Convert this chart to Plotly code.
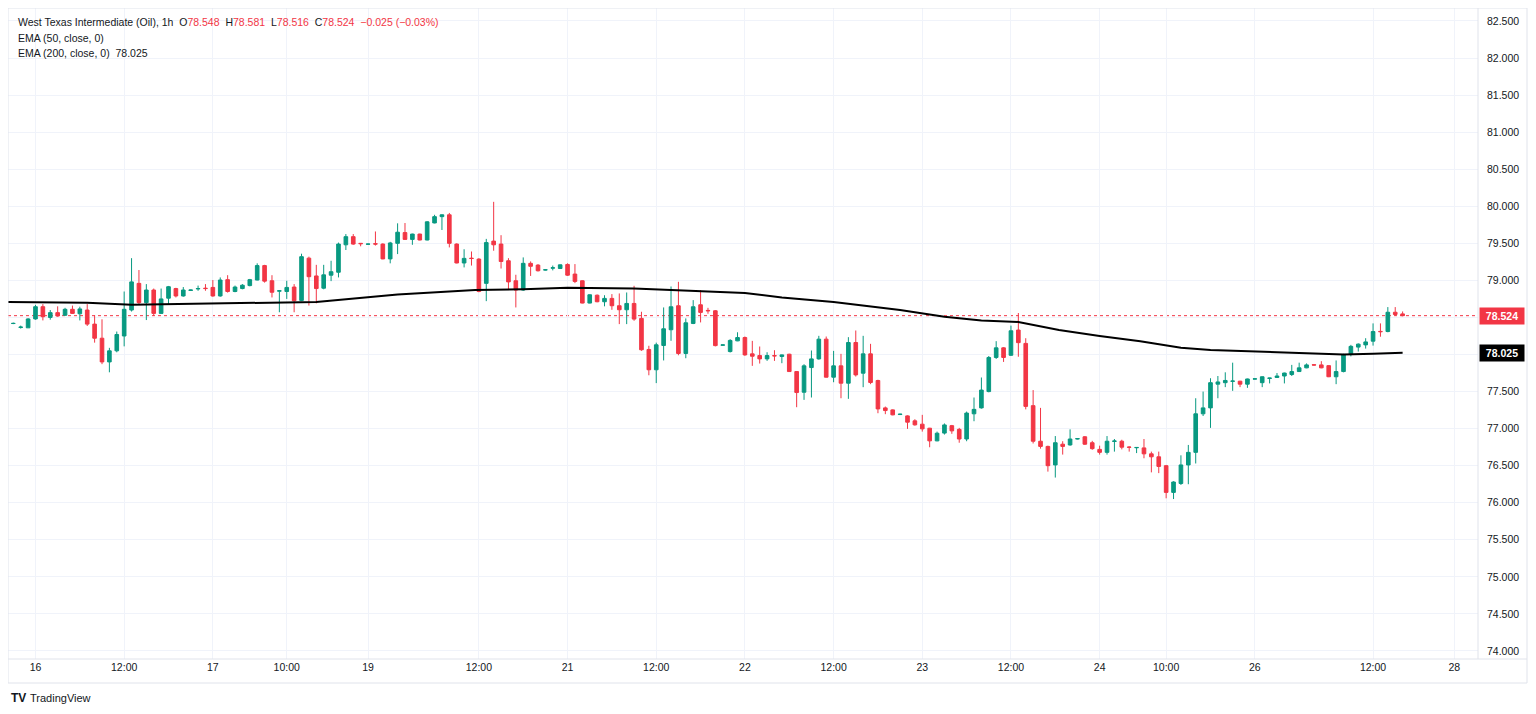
import plotly.graph_objects as go

# ---- data ----
ohlc = [
    (78.418, 78.43, 78.41, 78.42), (78.365, 78.39, 78.35, 78.37), (78.36, 78.49, 78.36, 78.48),
    (78.48, 78.67, 78.47, 78.645), (78.645, 78.68, 78.46, 78.51), (78.50, 78.60, 78.47, 78.565),
    (78.565, 78.65, 78.51, 78.52), (78.53, 78.63, 78.52, 78.61), (78.61, 78.66, 78.55, 78.555),
    (78.55, 78.645, 78.46, 78.615), (78.60, 78.68, 78.385, 78.41), (78.41, 78.53, 78.16, 78.22),
    (78.22, 78.475, 77.87, 77.90), (77.90, 78.09, 77.76, 78.05), (78.05, 78.31, 78.03, 78.27),
    (78.25, 78.85, 78.11, 78.61), (78.60, 79.30, 78.58, 78.98), (78.96, 79.14, 78.67, 78.70),
    (78.70, 78.95, 78.465, 78.87), (78.87, 78.89, 78.52, 78.555), (78.555, 78.89, 78.55, 78.75),
    (78.76, 78.925, 78.68, 78.915), (78.89, 78.90, 78.77, 78.79), (78.79, 78.91, 78.78, 78.87),
    (78.865, 78.875, 78.86, 78.87), (78.885, 78.93, 78.86, 78.89), (78.895, 78.95, 78.86, 78.89),
    (78.905, 79.005, 78.78, 78.79), (78.79, 79.04, 78.78, 79.005), (79.01, 79.07, 78.835, 78.85),
    (78.85, 78.93, 78.84, 78.91), (78.89, 78.95, 78.88, 78.935), (78.93, 79.02, 78.92, 79.01),
    (79.005, 79.23, 79.00, 79.20), (79.20, 79.21, 78.97, 78.99), (78.995, 79.07, 78.77, 78.84),
    (78.855, 78.87, 78.57, 78.86), (78.85, 78.995, 78.75, 78.905), (78.91, 78.95, 78.57, 78.725),
    (78.73, 79.36, 78.72, 79.32), (79.30, 79.32, 78.66, 79.05), (79.06, 79.21, 78.69, 78.89),
    (78.895, 79.21, 78.88, 79.075), (79.07, 79.265, 78.99, 79.117), (79.11, 79.51, 79.04, 79.49),
    (79.48, 79.625, 79.41, 79.59), (79.59, 79.625, 79.48, 79.49), (79.50, 79.50, 79.46, 79.495),
    (79.488, 79.495, 79.485, 79.49), (79.495, 79.66, 79.47, 79.49), (79.49, 79.50, 79.285, 79.29),
    (79.29, 79.52, 79.23, 79.505), (79.50, 79.77, 79.355, 79.65), (79.645, 79.774, 79.55, 79.553),
    (79.553, 79.63, 79.48, 79.625), (79.625, 79.63, 79.54, 79.545), (79.545, 79.80, 79.54, 79.79),
    (79.775, 79.885, 79.77, 79.86), (79.86, 79.89, 79.68, 79.885), (79.885, 79.91, 79.445, 79.50),
    (79.49, 79.50, 79.23, 79.235), (79.235, 79.42, 79.175, 79.297), (79.30, 79.39, 79.20, 79.295),
    (79.287, 79.30, 78.84, 78.851), (78.96, 79.56, 78.72, 79.51), (79.53, 80.06, 79.40, 79.48),
    (79.49, 79.61, 79.16, 79.255), (79.265, 79.30, 78.88, 78.98), (78.995, 79.076, 78.635, 78.87),
    (78.87, 79.31, 78.86, 79.23), (79.23, 79.256, 79.06, 79.19), (79.206, 79.22, 79.12, 79.13),
    (79.14, 79.15, 79.135, 79.143), (79.165, 79.20, 79.135, 79.17), (79.16, 79.215, 79.155, 79.21),
    (79.215, 79.23, 79.06, 79.07), (79.085, 79.22, 78.963, 78.986), (78.995, 79.00, 78.69, 78.694),
    (78.694, 78.81, 78.69, 78.806), (78.80, 78.81, 78.705, 78.712), (78.712, 78.80, 78.65, 78.757),
    (78.757, 78.815, 78.603, 78.658), (78.658, 78.824, 78.41, 78.604), (78.604, 78.837, 78.41, 78.689),
    (78.689, 78.927, 78.455, 78.478), (78.487, 78.577, 78.05, 78.064), (78.068, 78.118, 77.72, 77.794),
    (77.794, 78.16, 77.614, 78.131), (78.122, 78.635, 77.92, 78.347), (78.334, 78.918, 78.185, 78.644),
    (78.658, 78.981, 77.99, 78.014), (78.014, 78.487, 77.95, 78.428), (78.419, 78.734, 78.41, 78.644),
    (78.671, 78.869, 78.433, 78.568), (78.595, 78.63, 78.55, 78.59), (78.59, 78.60, 78.11, 78.12),
    (78.125, 78.135, 78.12, 78.13), (78.04, 78.207, 78.027, 78.19), (78.184, 78.30, 78.18, 78.229),
    (78.229, 78.243, 77.982, 77.995), (78.009, 78.184, 77.847, 77.977), (77.986, 78.108, 77.878, 77.941),
    (77.941, 78.031, 77.914, 77.986), (77.985, 78.058, 77.914, 77.982), (77.973, 78.00, 77.883, 77.995),
    (78.004, 78.01, 77.765, 77.77), (77.77, 77.775, 77.289, 77.487), (77.491, 77.869, 77.388, 77.847),
    (77.824, 78.054, 77.42, 77.941), (77.941, 78.252, 77.93, 78.207), (78.207, 78.243, 77.69, 77.694),
    (77.694, 78.049, 77.626, 77.847), (77.847, 78.009, 77.41, 77.613), (77.613, 78.234, 77.402, 78.162),
    (78.162, 78.324, 77.703, 77.725), (77.748, 78.252, 77.559, 78.009), (78.009, 78.144, 77.60, 77.622),
    (77.649, 77.66, 77.208, 77.266), (77.28, 77.298, 77.195, 77.244), (77.253, 77.26, 77.18, 77.186),
    (77.19, 77.20, 77.185, 77.195), (77.172, 77.18, 76.997, 77.087), (77.105, 77.127, 77.04, 77.051),
    (77.06, 77.186, 76.96, 76.997), (77.006, 77.01, 76.749, 76.835), (76.835, 76.96, 76.83, 76.938),
    (76.94, 77.07, 76.92, 77.05), (77.04, 77.05, 76.93, 76.97), (76.99, 77.01, 76.81, 76.86),
    (76.86, 77.23, 76.83, 77.21), (77.20, 77.42, 77.10, 77.26), (77.28, 77.69, 77.27, 77.52),
    (77.50, 77.98, 77.49, 77.96), (77.96, 78.18, 77.94, 78.09), (78.09, 78.10, 77.90, 77.96),
    (77.99, 78.39, 77.98, 78.32), (78.33, 78.56, 77.97, 78.16), (78.15, 78.22, 77.26, 77.30),
    (77.31, 77.52, 76.80, 76.83), (76.83, 77.28, 76.73, 76.76), (76.76, 76.77, 76.42, 76.50),
    (76.51, 76.90, 76.34, 76.81), (76.79, 76.83, 76.65, 76.76), (76.78, 76.99, 76.77, 76.86),
    (76.86, 76.87, 76.855, 76.865), (76.89, 76.90, 76.78, 76.79), (76.81, 76.835, 76.715, 76.73),
    (76.72, 76.77, 76.65, 76.68), (76.68, 76.90, 76.65, 76.83), (76.828, 76.86, 76.69, 76.833),
    (76.83, 76.85, 76.72, 76.75), (76.752, 76.76, 76.69, 76.748), (76.742, 76.75, 76.67, 76.746),
    (76.74, 76.86, 76.60, 76.66), (76.66, 76.69, 76.41, 76.62), (76.62, 76.69, 76.40, 76.49),
    (76.50, 76.51, 76.06, 76.14), (76.14, 76.29, 76.05, 76.28), (76.26, 76.64, 76.24, 76.51),
    (76.51, 76.78, 76.25, 76.68), (76.68, 77.41, 76.53, 77.20), (77.20, 77.50, 77.17, 77.28),
    (77.28, 77.68, 77.01, 77.62), (77.60, 77.71, 77.41, 77.63), (77.62, 77.76, 77.56, 77.65),
    (77.638, 77.89, 77.51, 77.642), (77.64, 77.645, 77.56, 77.60), (77.60, 77.675, 77.55, 77.67),
    (77.668, 77.675, 77.665, 77.672), (77.62, 77.705, 77.56, 77.70), (77.678, 77.685, 77.61, 77.682),
    (77.69, 77.75, 77.685, 77.71), (77.71, 77.755, 77.61, 77.75), (77.73, 77.86, 77.71, 77.77),
    (77.77, 77.89, 77.765, 77.82), (77.82, 77.88, 77.815, 77.86), (77.862, 77.865, 77.855, 77.858),
    (77.86, 77.91, 77.815, 77.82), (77.85, 77.855, 77.695, 77.70), (77.70, 77.92, 77.60, 77.77),
    (77.77, 78.01, 77.76, 78.00), (78.00, 78.13, 77.975, 78.11), (78.10, 78.15, 78.04, 78.14),
    (78.13, 78.22, 78.08, 78.17), (78.18, 78.42, 78.12, 78.31), (78.312, 78.42, 78.24, 78.308),
    (78.31, 78.64, 78.30, 78.57), (78.57, 78.64, 78.52, 78.54), (78.548, 78.581, 78.516, 78.524),
]
opens = [r[0] for r in ohlc]
highs = [r[1] for r in ohlc]
lows = [r[2] for r in ohlc]
closes = [r[3] for r in ohlc]
bars = list(range(len(ohlc)))

ema_idx = [-1, 10, 16, 30, 41, 52, 62.5, 69, 75, 84, 88, 94, 99, 104, 111, 115.5, 120, 126,
           131, 136, 141.5, 147, 152.5, 158, 162, 171, 180, 184, 188]
ema_vals = [78.71, 78.70, 78.67, 78.69, 78.71, 78.81, 78.87, 78.88, 78.90, 78.89, 78.87, 78.85,
            78.83, 78.77, 78.71, 78.66, 78.60, 78.51, 78.46, 78.44, 78.33, 78.25, 78.18, 78.09,
            78.06, 78.03, 78.00, 78.01, 78.025]

tick_idx = [3, 15, 27, 37, 48, 63, 75, 87, 99, 111, 123, 135, 147, 156, 168, 184, 195]
tick_text = ["16", "12:00", "17", "10:00", "19", "12:00", "21", "12:00", "22", "12:00",
             "23", "12:00", "24", "10:00", "26", "12:00", "28"]

y_ticks = [74.0, 74.5, 75.0, 75.5, 76.0, 76.5, 77.0, 77.5, 78.0, 78.5,
           79.0, 79.5, 80.0, 80.5, 81.0, 81.5, 82.0, 82.5]
y_labels = ["%.3f" % v for v in y_ticks]

last_price = 78.524
ema200_last = 78.025

GREEN = "#089981"
RED = "#F23645"
TXT = "#131722"
GRID = "#f0f3fa"
FRAME = "#e0e3eb"
FONT = "Liberation Sans"

# page body has an 8px margin: figure sits at (8, 8)
PLOT_H = 651.0
PLOT_W = 1470.0

fig = go.Figure()
fig.add_trace(go.Candlestick(
    x=bars, open=opens, high=highs, low=lows, close=closes,
    increasing=dict(line=dict(color=GREEN, width=1), fillcolor=GREEN),
    decreasing=dict(line=dict(color=RED, width=1), fillcolor=RED),
    whiskerwidth=0, showlegend=False, hoverinfo="skip",
))
fig.add_trace(go.Scatter(
    x=ema_idx, y=ema_vals, mode="lines", line=dict(color="#000000", width=2),
    showlegend=False, hoverinfo="skip",
))

fig.update_layout(
    width=1528, height=706,
    margin=dict(l=0, r=58, t=0, b=55),
    paper_bgcolor="white", plot_bgcolor="white",
    font=dict(family=FONT, size=10.5, color=TXT),
    boxgap=0.3,
    xaxis=dict(
        range=[-0.72, 198.2], tickmode="array", tickvals=tick_idx, ticktext=tick_text,
        showgrid=True, gridcolor=GRID, gridwidth=1, zeroline=False, showline=False,
        ticks="", rangeslider=dict(visible=False), tickfont=dict(size=10.5, color=TXT),
        fixedrange=True,
    ),
    yaxis=dict(
        side="right", range=[73.892, 82.675], tickmode="array", tickvals=y_ticks,
        ticktext=y_labels, showgrid=True, gridcolor=GRID, gridwidth=1, zeroline=False,
        showline=False, ticks="", ticklabelstandoff=8, tickfont=dict(size=10.5, color=TXT),
        fixedrange=True,
    ),
)


def py(px):
    # page y pixel -> paper coordinate (plot top at page y=8)
    return 1 - (px - 8) / PLOT_H


def pxx(px):
    # page x pixel -> paper coordinate (plot left at page x=8)
    return (px - 8) / PLOT_W


shapes = []
shapes.append(dict(type="line", xref="paper", yref="y", x0=0, x1=1, y0=last_price, y1=last_price,
                   line=dict(color=RED, width=1, dash="dot"), layer="below"))
y_bot = py(683)
x_right = pxx(1527)
shapes.append(dict(type="rect", xref="paper", yref="paper", x0=0, x1=x_right, y0=y_bot, y1=1,
                   line=dict(color=FRAME, width=1)))
shapes.append(dict(type="line", xref="paper", yref="paper", x0=1, x1=1, y0=0, y1=1,
                   line=dict(color=FRAME, width=1)))
shapes.append(dict(type="line", xref="paper", yref="paper", x0=0, x1=x_right, y0=0, y1=0,
                   line=dict(color=FRAME, width=1)))
fig.update_layout(shapes=shapes)

ann = []
ann.append(dict(xref="paper", yref="y", x=1, y=last_price, xanchor="left", yanchor="middle",
                text="<b>%.3f</b>" % last_price, showarrow=False, bgcolor=RED,
                font=dict(color="white", size=10.5, family=FONT), borderpad=2, width=40, xshift=1))
ann.append(dict(xref="paper", yref="y", x=1, y=ema200_last, xanchor="left", yanchor="middle",
                text="<b>%.3f</b>" % ema200_last, showarrow=False, bgcolor="#000000",
                font=dict(color="white", size=10.5, family=FONT), borderpad=2, width=40, xshift=1))

sp = "&nbsp;"
hdr = ("West Texas Intermediate (Oil), 1h" + sp + sp +
       "O<span style='color:%s'>78.548</span>" % RED + sp + sp +
       "H<span style='color:%s'>78.581</span>" % RED + sp + sp +
       "L<span style='color:%s'>78.516</span>" % RED + sp + sp +
       "C<span style='color:%s'>78.524</span>" % RED + sp + sp +
       "<span style='color:%s'>−0.025 (−0.03%%)</span>" % RED)
ann.append(dict(xref="paper", yref="paper", x=pxx(16), y=py(22.5), xanchor="left", yanchor="middle",
                text=hdr, showarrow=False, font=dict(size=10.5, color=TXT, family=FONT)))
ann.append(dict(xref="paper", yref="paper", x=pxx(16), y=py(37.5), xanchor="left", yanchor="middle",
                text="EMA (50, close, 0)", showarrow=False, font=dict(size=10.5, color=TXT, family=FONT)))
ann.append(dict(xref="paper", yref="paper", x=pxx(16), y=py(52.5), xanchor="left", yanchor="middle",
                text="EMA (200, close, 0)" + sp + sp + "78.025", showarrow=False,
                font=dict(size=10.5, color=TXT, family=FONT)))
ann.append(dict(xref="paper", yref="paper", x=pxx(9), y=py(698), xanchor="left", yanchor="middle",
                text="<b>TV</b>", showarrow=False, font=dict(size=12, color=TXT, family=FONT)))
ann.append(dict(xref="paper", yref="paper", x=pxx(28), y=py(698), xanchor="left", yanchor="middle",
                text="TradingView", showarrow=False, font=dict(size=11, color=TXT, family=FONT)))
fig.update_layout(annotations=ann)

fig.write_html("out.html")
